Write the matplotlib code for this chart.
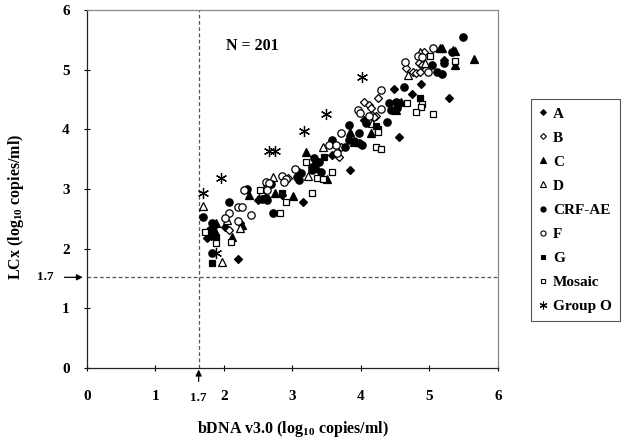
import matplotlib
matplotlib.use("Agg")
import matplotlib.pyplot as plt
from matplotlib.lines import Line2D

plt.rcParams['font.family'] = ['Liberation Serif', 'DejaVu Serif']
plt.rcParams['font.weight'] = 'bold'
plt.rcParams['mathtext.fontset'] = 'custom'
plt.rcParams['mathtext.rm'] = 'Liberation Serif:bold'
plt.rcParams['mathtext.bf'] = 'Liberation Serif:bold'
plt.rcParams['mathtext.it'] = 'Liberation Serif:bold'

# ---- data (log10 copies/ml): (bDNA, LCx) ----
A_x = [1.75, 2.20, 2.49, 3.16, 3.84, 4.48, 4.75, 5.28, 4.56, 2.01, 2.85, 3.57, 4.05, 4.88, 5.21, 1.81, 3.33]
A_y = [2.18, 1.83, 2.81, 2.78, 3.32, 4.67, 4.59, 4.52, 3.87, 2.36, 2.90, 3.57, 4.15, 4.76, 5.16, 2.21, 3.40]

B_x = [2.08, 2.24, 3.68, 3.71, 4.05, 4.12, 4.15, 4.22, 4.25, 4.16, 4.19, 4.66, 4.76, 4.80, 4.86, 4.85, 4.89, 2.94, 2.63, 4.92, 3.10]
B_y = [2.31, 2.43, 3.53, 3.70, 4.46, 4.41, 4.36, 4.22, 4.52, 4.24, 4.20, 5.03, 4.96, 4.94, 4.96, 5.11, 5.08, 3.18, 3.07, 5.29, 3.28]

C_x = [1.88, 2.26, 2.11, 2.36, 2.75, 3.01, 3.20, 3.51, 3.84, 4.15, 4.51, 5.15, 5.18, 5.34, 5.37, 5.65, 5.37, 3.36, 3.90, 4.59, 1.85]
C_y = [2.43, 2.40, 2.19, 2.90, 2.93, 2.88, 3.62, 3.17, 3.95, 3.94, 4.32, 5.36, 5.36, 5.33, 5.31, 5.18, 5.08, 3.35, 3.79, 4.46, 2.33]

D_x = [1.69, 2.05, 2.23, 1.97, 2.72, 3.44, 4.16, 4.69, 4.93, 2.55, 3.22, 4.86]
D_y = [2.71, 2.48, 2.35, 1.78, 3.20, 3.70, 4.10, 4.91, 5.11, 2.95, 3.22, 5.29]

CRF_x = [1.69, 2.34, 2.07, 1.82, 1.85, 2.71, 1.82, 2.69, 3.07, 3.32, 3.35, 3.29, 3.39, 3.28, 3.42,
         3.58, 3.57, 3.77, 3.83, 3.90, 3.97, 4.02, 3.83, 3.97, 4.08, 4.38, 4.41, 4.44, 5.49, 5.33,
         5.21, 5.04, 5.11, 5.18, 4.63, 4.51, 4.56, 4.53, 2.56, 2.61, 2.63, 1.79, 3.10, 3.13]
CRF_y = [2.53, 3.00, 2.78, 2.43, 2.40, 2.60, 1.93, 3.08, 3.20, 3.52, 3.45, 3.37, 3.45, 3.32, 3.28,
         3.82, 3.77, 3.70, 3.82, 3.80, 3.77, 3.74, 4.07, 3.94, 4.10, 4.12, 4.44, 4.32, 5.54, 5.29,
         5.11, 5.08, 4.96, 4.92, 4.71, 4.46, 4.44, 4.36, 2.83, 2.85, 2.81, 2.31, 3.15, 3.27]

F_x = [2.20, 2.26, 2.07, 2.39, 2.21, 2.62, 2.66, 2.84, 2.91, 3.04, 2.63, 3.65, 3.54, 3.71, 3.64,
       3.96, 3.99, 4.12, 4.29, 4.29, 4.64, 4.83, 4.89, 4.98, 5.05, 2.87, 2.02, 2.29]
F_y = [2.70, 2.70, 2.60, 2.56, 2.46, 3.12, 3.10, 3.22, 3.17, 3.33, 2.98, 3.60, 3.74, 3.94, 3.74,
       4.32, 4.27, 4.22, 4.66, 4.34, 5.13, 5.23, 5.21, 4.96, 5.36, 3.12, 2.51, 2.98]

G_x = [1.83, 1.88, 1.82, 2.84, 3.46, 4.22, 4.25, 4.86, 2.52]
G_y = [2.29, 2.19, 1.76, 2.93, 3.53, 4.05, 4.00, 4.52, 2.83]

Mos_x = [1.72, 1.88, 2.10, 2.53, 2.82, 2.91, 3.29, 3.20, 3.36, 3.44, 3.58, 4.25, 4.22, 4.29, 5.37,
         5.01, 4.89, 4.88, 4.67, 4.80, 5.05]
Mos_y = [2.28, 2.09, 2.11, 2.98, 2.60, 2.78, 2.93, 3.45, 3.18, 3.17, 3.28, 3.95, 3.70, 3.67, 5.14,
         5.23, 4.42, 4.37, 4.44, 4.29, 4.25]

O_x = [1.69, 1.95, 2.66, 2.75, 3.17, 3.49, 4.02, 1.89]
O_y = [2.93, 3.18, 3.63, 3.63, 3.97, 4.25, 4.87, 1.93]

labels = ['A', 'B', 'C', 'D', 'CRF-AE', 'F', 'G', 'Mosaic', 'Group O']
cutoff_label = '1.7'
n_text = 'N = 201'

series = [
    (A_x, A_y, 'D', 4.2, 'black'),
    (B_x, B_y, 'D', 4.2, 'white'),
    (C_x, C_y, '^', 5.3, 'black'),
    (D_x, D_y, '^', 5.3, 'white'),
    (CRF_x, CRF_y, 'o', 5.3, 'black'),
    (F_x, F_y, 'o', 5.3, 'white'),
    (G_x, G_y, 's', 4.8, 'black'),
    (Mos_x, Mos_y, 's', 4.8, 'white'),
    (O_x, O_y, (6, 2, 0), 8.0, 'black'),
]

fig = plt.figure(figsize=(6.29, 4.45), dpi=100)
ax = fig.add_axes([0.1383, 0.1730, 0.6534, 0.8045])

ax.set_xlim(0, 6)
ax.set_ylim(0, 6)

# cutoff dashed lines
vx = 1.63
hy = 1.52
ax.axvline(vx, color='#555555', ls=(0, (3, 2)), lw=0.9, zorder=1)
ax.axhline(hy, color='#555555', ls=(0, (3, 2)), lw=0.9, zorder=1)

handles = []
for (xs, ys, m, ms, fc), lab in zip(series, labels):
    ax.plot(xs, ys, ls='none', marker=m, ms=ms, mfc=fc, mec='black', mew=0.9, zorder=3)
    handles.append(Line2D([], [], ls='none', marker=m, ms=ms * 0.7, mfc=fc, mec='black',
                          mew=0.8, label=lab))

# spines
for s in ['top', 'right']:
    ax.spines[s].set_linestyle((0, (1, 1)))
    ax.spines[s].set_color('#888888')
    ax.spines[s].set_linewidth(0.9)
for s in ['left', 'bottom']:
    ax.spines[s].set_color('#222222')
    ax.spines[s].set_linewidth(0.9)

ax.set_xticks([0, 1, 2, 3, 4, 5, 6])
ax.set_yticks([0, 1, 2, 3, 4, 5, 6])
ax.tick_params(axis='x', direction='inout', length=5, width=0.8, pad=13, labelsize=11)
ax.tick_params(axis='y', direction='inout', length=5, width=0.8, pad=10, labelsize=11)
for t in ax.get_xticklabels() + ax.get_yticklabels():
    t.set_fontweight('bold')

# cutoff annotations
ax.text(vx, -0.50, cutoff_label, ha='center', va='center', fontsize=9.5, fontweight='bold',
        clip_on=False)
ax.text(-0.61, hy, cutoff_label, ha='center', va='center', fontsize=9.5, fontweight='bold',
        clip_on=False)
ax.annotate('', xy=(vx, 0.02), xytext=(vx, -0.27), xycoords='data',
            arrowprops=dict(arrowstyle='-|>', color='black', lw=0.9, mutation_scale=9),
            annotation_clip=False)
ax.annotate('', xy=(-0.02, hy), xytext=(-0.37, hy), xycoords='data',
            arrowprops=dict(arrowstyle='-|>', color='black', lw=0.9, mutation_scale=9),
            annotation_clip=False)

ax.text(2.42, 5.39, n_text, ha='center', va='center', fontsize=11.5, fontweight='bold')

ax.set_xlabel(r'bDNA v3.0 (log$_{10}$ copies/ml)', fontsize=11.5, fontweight='bold', labelpad=12)
ax.set_ylabel(r'LCx (log$_{10}$ copies/ml)', fontsize=11.5, fontweight='bold')
ax.yaxis.set_label_coords(-0.148, 0.45)

leg = fig.legend(handles=handles, loc='upper left', bbox_to_anchor=(0.844, 0.777),
                 frameon=True, fancybox=False, edgecolor='#555555', framealpha=1,
                 fontsize=11, labelspacing=0.68, handlelength=0.6, handletextpad=0.35,
                 borderpad=0.5, borderaxespad=0)
leg.get_frame().set_linewidth(0.8)
for t in leg.get_texts():
    t.set_fontweight('bold')

fig.savefig('out.png', dpi=100)
